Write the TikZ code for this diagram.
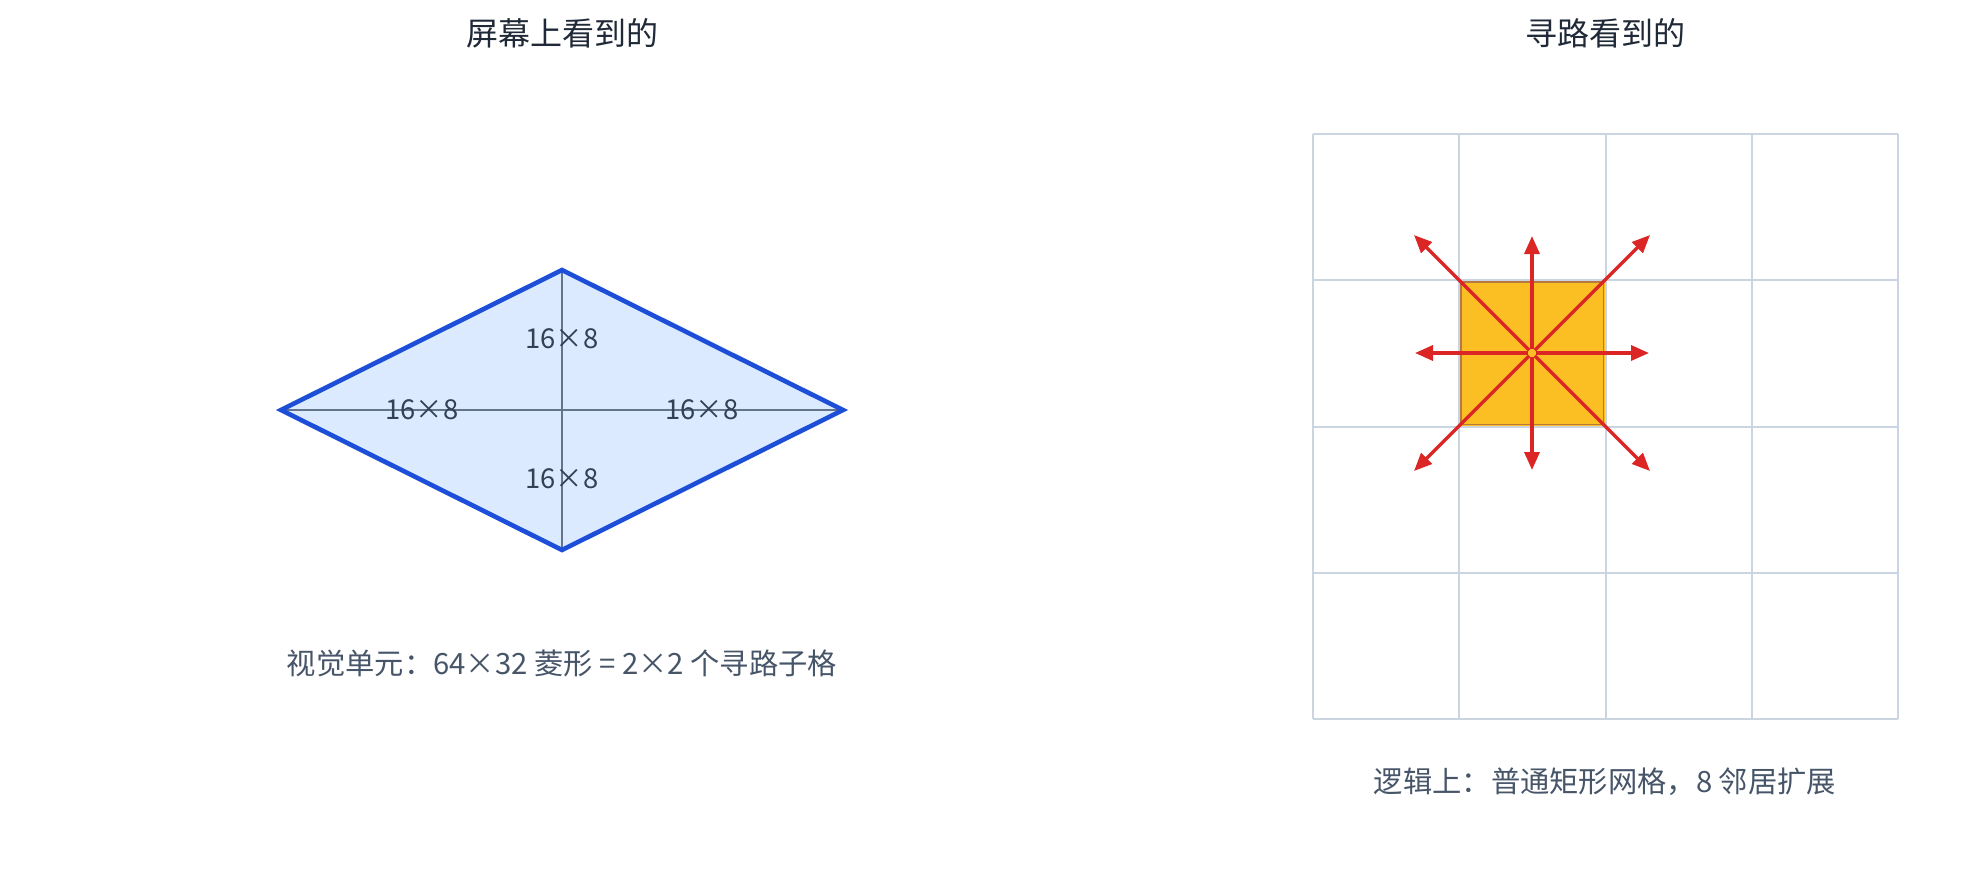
\documentclass[tikz,border=0pt]{standalone}
\usepackage{fontspec}
\setmainfont{Noto Sans CJK SC}
\usetikzlibrary{arrows.meta}
\definecolor{titlec}{HTML}{1F2937}
\definecolor{capc}{HTML}{475569}
\definecolor{lblc}{HTML}{334155}
\definecolor{dfill}{HTML}{DBEAFE}
\definecolor{dline}{HTML}{1D4ED8}
\definecolor{axisc}{HTML}{64748B}
\definecolor{gridc}{HTML}{CBD5E1}
\definecolor{cellc}{HTML}{FBBF24}
\definecolor{celle}{HTML}{B7793F}
\definecolor{arrc}{HTML}{DC2626}
\tikzset{
  titletext/.style={text=titlec, font=\fontsize{32}{38}\selectfont, inner sep=0pt},
  captext/.style={text=capc, font=\fontsize{29.3}{35}\selectfont, inner sep=0pt},
  lbltext/.style={text=lblc, font=\fontsize{27.4}{32}\selectfont, inner sep=0pt},
  gridline/.style={draw=gridc, line width=2pt},
  dirarrow/.style={draw=arrc, line width=3.4pt, shorten <=4pt, -{Triangle[length=18pt,width=15pt]}}
}
\begin{document}
\begin{tikzpicture}[x=1pt,y=-1pt]
\useasboundingbox (0,0) rectangle (1976,886);
% titles
\node[titletext] (t1) at (562,33) {屏幕上看到的};
\node[titletext] (t2) at (1605,33) {寻路看到的};
% diamond
\coordinate (dl) at (281,410);
\coordinate (dr) at (843,410);
\coordinate (dt) at (562,270);
\coordinate (db) at (562,550);
\fill[dfill] (dl) -- (dt) -- (dr) -- (db) -- cycle;
\draw[axisc, line width=2.6pt] (dl) -- (dr);
\draw[axisc, line width=2.6pt] (dt) -- (db);
\draw[dline, line width=4.6pt, line join=miter] (dl) -- (dt) -- (dr) -- (db) -- cycle;
\node[lbltext] (l1) at (562,339) {16×8};
\node[lbltext] (l2) at (562,479) {16×8};
\node[lbltext] (l3) at (422,410) {16×8};
\node[lbltext] (l4) at (702,410) {16×8};
\node[captext] (c1) at (562,663) {视觉单元：64×32 菱形 = 2×2 个寻路子格};
% grid
\fill[cellc] (1459.25,280.25) rectangle (1605.5,426.5);
\foreach \i in {0,...,4} {
  \draw[gridline] ({1313+146.25*\i},134) -- ({1313+146.25*\i},719);
  \draw[gridline] (1313,{134+146.25*\i}) -- (1898,{134+146.25*\i});
}
\draw[celle, line width=1.3pt] (1461,282) rectangle (1603.75,424.75);
% arrows
\coordinate (c) at (1532,353);
\coordinate (aN) at (1532,236);
\coordinate (aS) at (1532,470);
\coordinate (aE) at (1649,353);
\coordinate (aW) at (1415,353);
\coordinate (aNE) at (1650,235);
\coordinate (aNW) at (1414,235);
\coordinate (aSE) at (1650,471);
\coordinate (aSW) at (1414,471);
\foreach \t in {aN,aS,aE,aW,aNE,aNW,aSE,aSW} {
  \draw[dirarrow] (c) -- (\t);
}
\node[captext] (c2) at (1605,782) {逻辑上：普通矩形网格，8 邻居扩展};
\end{tikzpicture}
\end{document}
